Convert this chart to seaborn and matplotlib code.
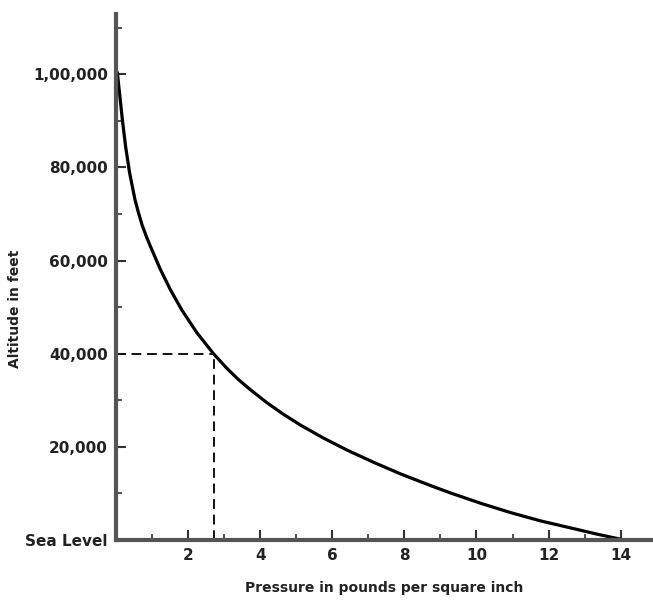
import matplotlib
matplotlib.use("Agg")
import matplotlib.pyplot as plt
import seaborn as sns
from matplotlib.ticker import MultipleLocator

# values (pressure in psi, altitude in feet)
pressure = [14.1, 13.35, 12.61, 11.78, 10.94, 10.11, 9.28, 8.72, 7.89, 7.14,
            6.41, 5.75, 5.11, 4.64, 4.18, 3.72, 3.4, 3.08, 2.7, 2.24, 1.82, 1.5,
            1.22, 0.98, 0.85, 0.72, 0.62, 0.52, 0.37, 0.26, 0.17, 0.09, 0.03]
altitude = [0, 1250, 2600, 4100, 5900, 7900, 10100, 11700, 14200, 16700,
            19300, 21900, 24700, 27000, 29500, 32300, 34400, 36800, 40000, 44500, 49400, 53800,
            58200, 62500, 64900, 67600, 70200, 73100, 78900, 84500, 90300, 96100, 100400]

marked_pressure = 2.7
marked_altitude = 40000

x_ticks = [2, 4, 6, 8, 10, 12, 14]
y_ticks = [0, 20000, 40000, 60000, 80000, 100000]
y_tick_labels = ["Sea Level", "20,000", "40,000", "60,000", "80,000", "1,00,000"]

sns.set_theme(style="ticks")
plt.rcParams["font.family"] = ["DejaVu Sans"]

fig = plt.figure(figsize=(6.53, 6.01), dpi=100)
ax = fig.add_axes([0.178, 0.1015, 0.822, 0.8755])

sns.lineplot(x=pressure, y=altitude, sort=False, estimator=None,
             color="black", linewidth=2.3, ax=ax)

# dashed guide lines to the 40,000 ft point
ax.plot([marked_pressure, marked_pressure], [0, marked_altitude],
        color="#111111", linestyle=(0, (5, 3)), linewidth=1.4)
ax.plot([0, marked_pressure], [marked_altitude, marked_altitude],
        color="#111111", linestyle=(0, (5, 3)), linewidth=1.4)

ax.set_xlim(0, 14.9)
ax.set_ylim(0, 113000)

ax.set_xticks(x_ticks)
ax.set_xticklabels([str(t) for t in x_ticks])
ax.set_yticks(y_ticks)
ax.set_yticklabels(y_tick_labels)
ax.xaxis.set_minor_locator(MultipleLocator(1))
ax.yaxis.set_minor_locator(MultipleLocator(10000))

ax.tick_params(axis="both", which="major", direction="in", length=7, width=1.5,
               color="#333333", labelsize=11, labelcolor="#222222", pad=6)
ax.tick_params(axis="both", which="minor", direction="in", length=4, width=1.2,
               color="#333333")
for lab in ax.get_xticklabels() + ax.get_yticklabels():
    lab.set_fontweight("bold")

sns.despine(ax=ax)
for side in ("left", "bottom"):
    ax.spines[side].set_linewidth(3)
    ax.spines[side].set_color("#555555")

ax.set_xlabel("Pressure in pounds per square inch", fontsize=10,
              fontweight="bold", color="#222222")
ax.set_ylabel("Altitude in feet", fontsize=10, fontweight="bold",
              color="#222222")
ax.xaxis.set_label_coords(0.5, -0.078)
ax.yaxis.set_label_coords(-0.175, 0.44)

fig.savefig("out.png", dpi=100, facecolor="white")
plt.close(fig)
